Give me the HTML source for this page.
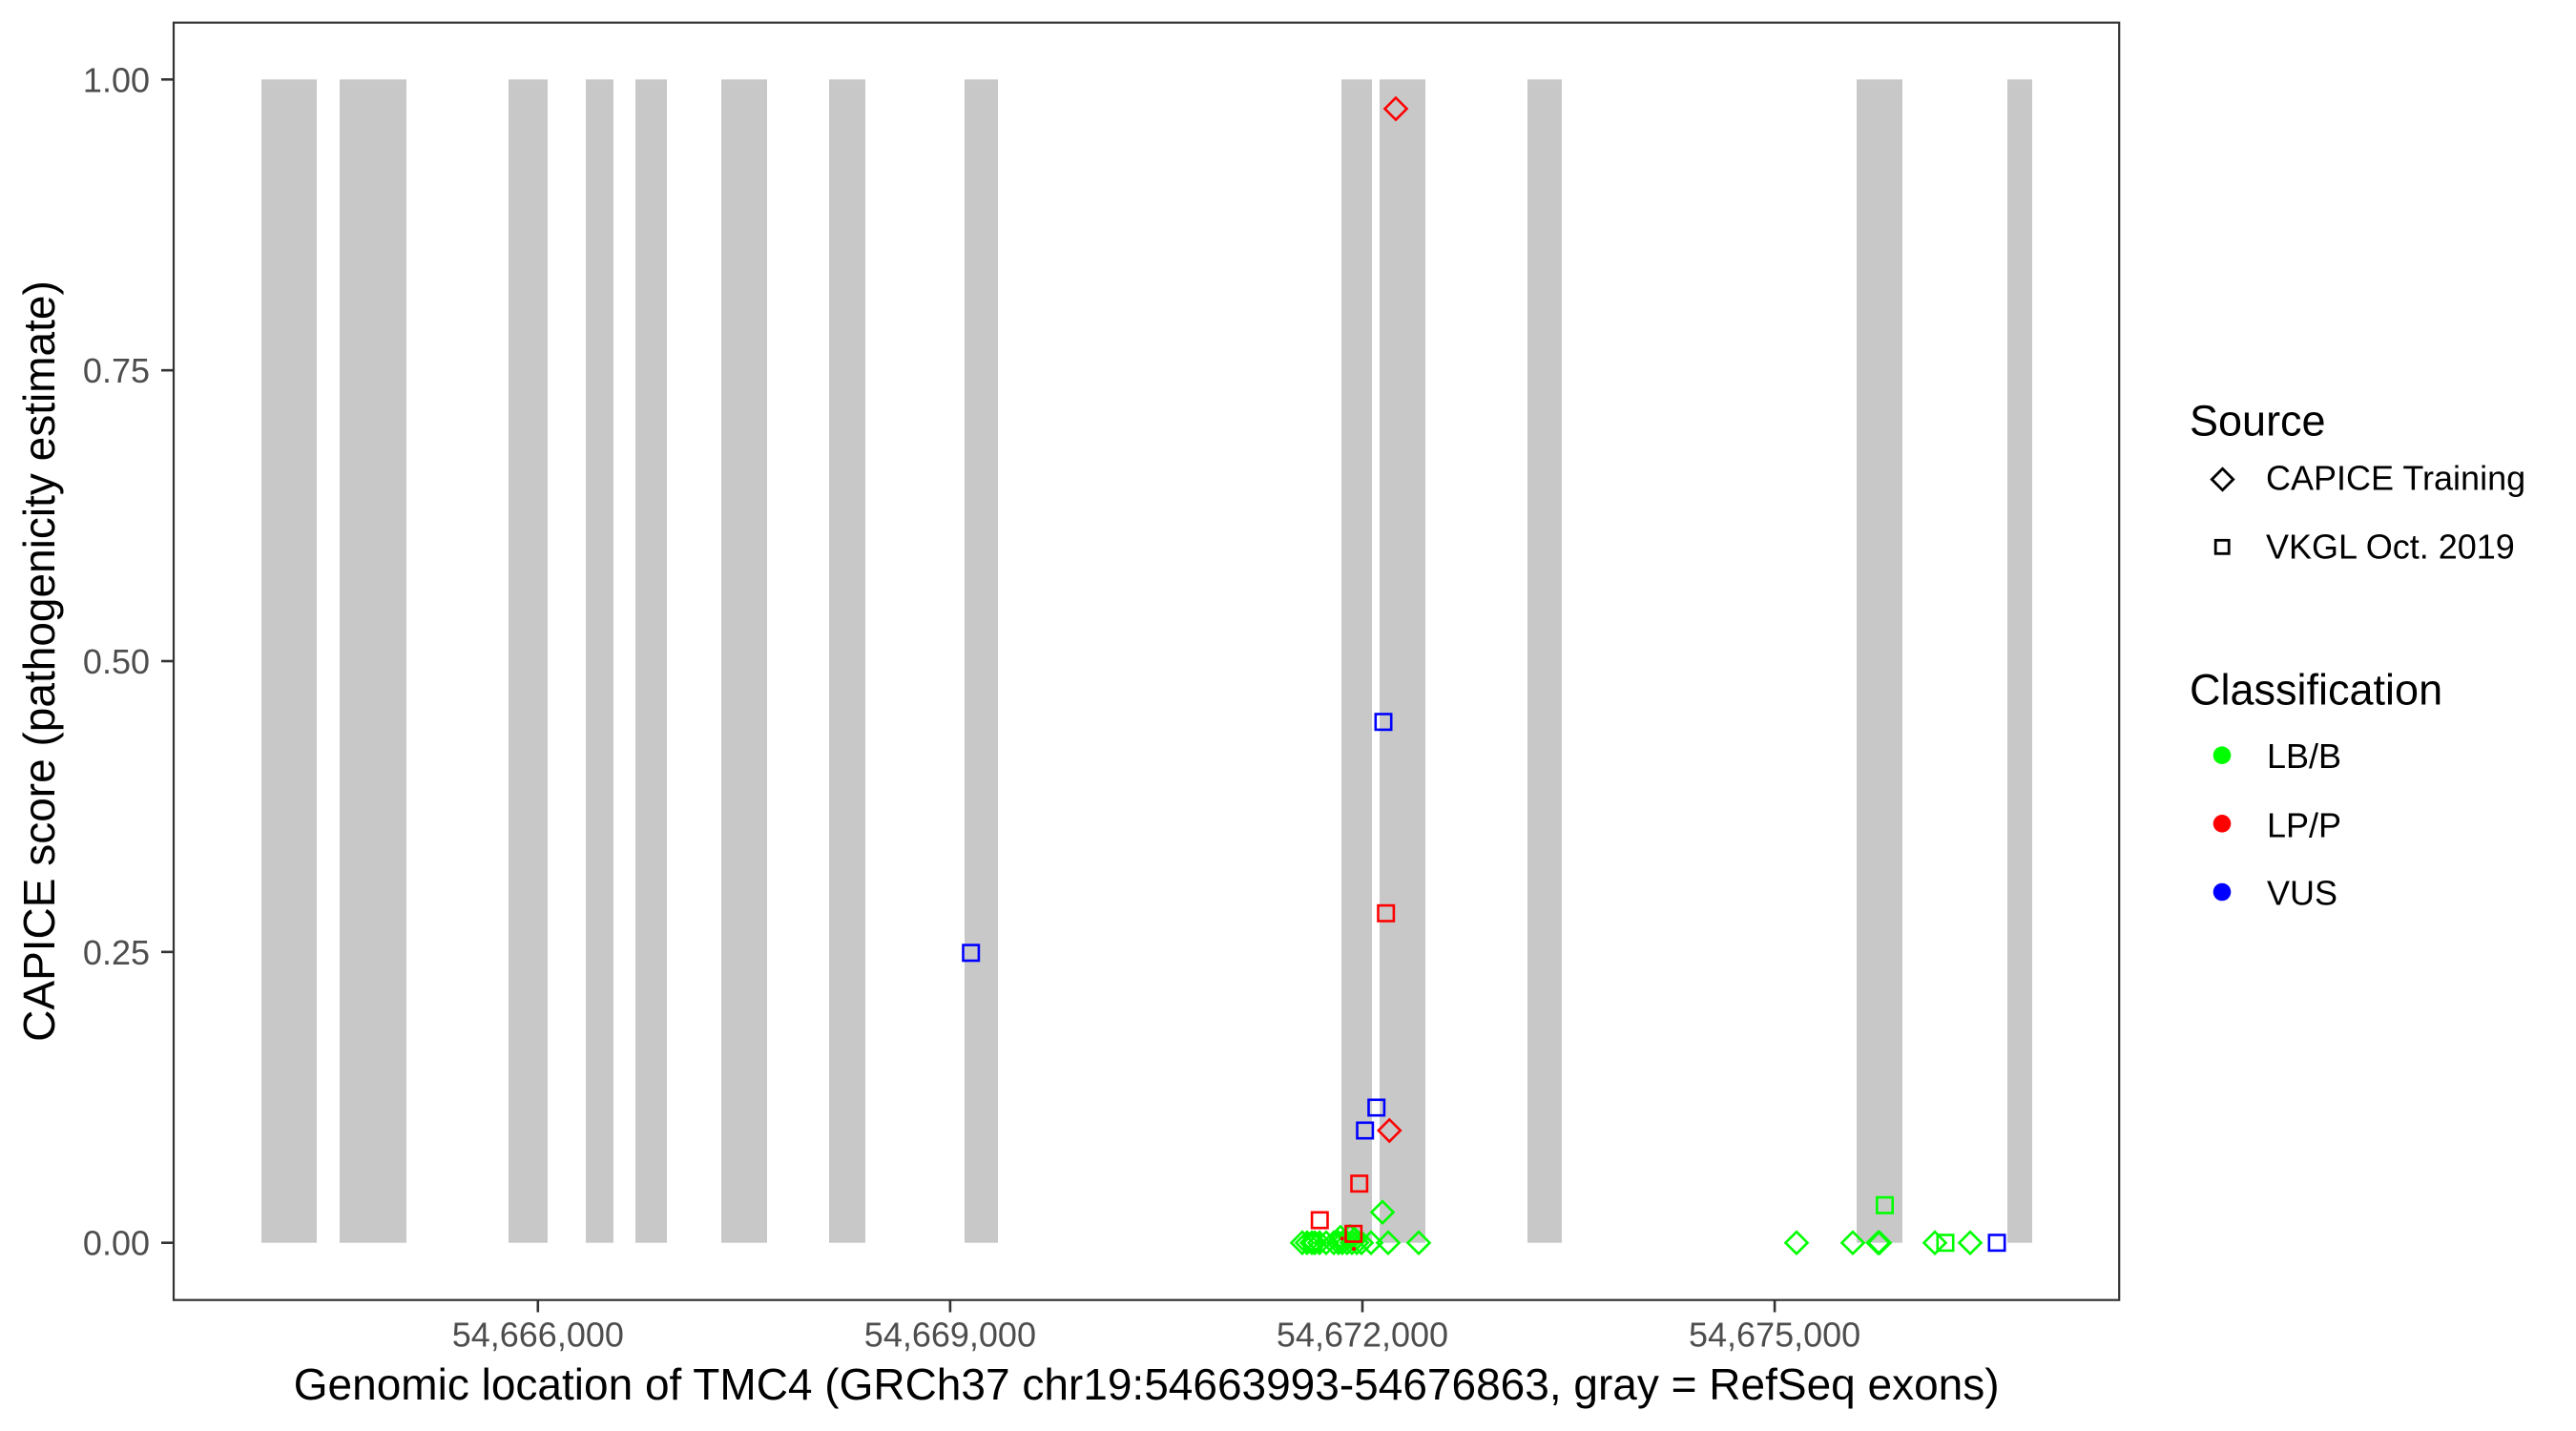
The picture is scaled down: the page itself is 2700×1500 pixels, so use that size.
<!DOCTYPE html>
<html><head><meta charset="utf-8"><style>
html,body{margin:0;padding:0;background:#fff;}
svg{display:block;}
text{font-family:"Liberation Sans",Arial,sans-serif;}
</style></head><body>
<svg width="2700" height="1500" viewBox="0 0 2700 1500" xmlns="http://www.w3.org/2000/svg">
<rect x="0" y="0" width="2700" height="1500" fill="#fff"/>
<!-- exons -->
<g fill="#C8C8C8">
<rect x="274" y="83.3" width="58" height="1219.4"/>
<rect x="356" y="83.3" width="70" height="1219.4"/>
<rect x="533" y="83.3" width="41" height="1219.4"/>
<rect x="614" y="83.3" width="29" height="1219.4"/>
<rect x="666" y="83.3" width="33" height="1219.4"/>
<rect x="756" y="83.3" width="48" height="1219.4"/>
<rect x="869" y="83.3" width="38" height="1219.4"/>
<rect x="1011" y="83.3" width="35" height="1219.4"/>
<rect x="1406" y="83.3" width="32" height="1219.4"/>
<rect x="1446" y="83.3" width="48" height="1219.4"/>
<rect x="1601" y="83.3" width="36" height="1219.4"/>
<rect x="1946" y="83.3" width="48" height="1219.4"/>
<rect x="2104" y="83.3" width="26" height="1219.4"/>
</g>
<defs>
<path id="dm" d="M0,-11.5 L11.5,0 L0,11.5 L-11.5,0 Z" fill="none" stroke-width="2.6"/>
<rect id="sq" x="-8.2" y="-8.2" width="16.4" height="16.4" fill="none" stroke-width="2.6"/>
</defs>
<!-- green diamonds -->
<g stroke="#00FF00" fill="none" stroke-width="2.6">
<use href="#dm" x="1365" y="1302.7" stroke="#00FF00"/>
<use href="#dm" x="1370" y="1302.7" stroke="#00FF00"/>
<use href="#dm" x="1375" y="1302.7" stroke="#00FF00"/>
<use href="#dm" x="1378" y="1302.7" stroke="#00FF00"/>
<use href="#dm" x="1383" y="1302.7" stroke="#00FF00"/>
<use href="#dm" x="1390" y="1302.7" stroke="#00FF00"/>
<use href="#dm" x="1398" y="1302.7" stroke="#00FF00"/>
<use href="#dm" x="1403" y="1302.7" stroke="#00FF00"/>
<use href="#dm" x="1407" y="1302.7" stroke="#00FF00"/>
<use href="#dm" x="1412" y="1302.7" stroke="#00FF00"/>
<use href="#dm" x="1417" y="1302.7" stroke="#00FF00"/>
<use href="#dm" x="1422" y="1302.7" stroke="#00FF00"/>
<use href="#dm" x="1427" y="1302.7" stroke="#00FF00"/>
<use href="#dm" x="1437" y="1302.7" stroke="#00FF00"/>
<use href="#dm" x="1455" y="1302.7" stroke="#00FF00"/>
<use href="#dm" x="1487" y="1302.7" stroke="#00FF00"/>
<use href="#dm" x="1405" y="1297" stroke="#00FF00"/>
<use href="#dm" x="1415" y="1296" stroke="#00FF00"/>
<use href="#dm" x="1420" y="1299" stroke="#00FF00"/>
<use href="#dm" x="1449" y="1270.7" stroke="#00FF00"/>
<use href="#dm" x="1883" y="1302.7" stroke="#00FF00"/>
<use href="#dm" x="1942" y="1302.7" stroke="#00FF00"/>
<use href="#dm" x="1968.5" y="1302.7" stroke="#00FF00"/>
<use href="#dm" x="1970" y="1302.7" stroke="#00FF00"/>
<use href="#dm" x="2028" y="1302.7" stroke="#00FF00"/>
<use href="#dm" x="2065" y="1302.7" stroke="#00FF00"/>
</g>
<!-- green squares -->
<g>
<use href="#sq" x="1375" y="1302.7" stroke="#00FF00"/>
<use href="#sq" x="1975.5" y="1263.3" stroke="#00FF00"/>
<use href="#sq" x="2039" y="1302.7" stroke="#00FF00"/>
</g>
<!-- red -->
<g>
<use href="#dm" x="1463" y="114" stroke="#FF0000"/>
<use href="#dm" x="1456.3" y="1185" stroke="#FF0000"/>
<use href="#sq" x="1452.7" y="957.3" stroke="#FF0000"/>
<use href="#sq" x="1424.7" y="1240.7" stroke="#FF0000"/>
<use href="#sq" x="1383.3" y="1279" stroke="#FF0000"/>
<use href="#sq" x="1418.7" y="1293.3" stroke="#FF0000"/>
<circle cx="1406.7" cy="1298.3" r="2" fill="#FF0000"/>
<circle cx="1419" cy="1309" r="2" fill="#FF0000"/>
</g>
<!-- blue -->
<g>
<use href="#sq" x="1017.7" y="998.8" stroke="#0000FF"/>
<use href="#sq" x="1450" y="756.7" stroke="#0000FF"/>
<use href="#sq" x="1442.7" y="1161" stroke="#0000FF"/>
<use href="#sq" x="1430.7" y="1185" stroke="#0000FF"/>
<use href="#sq" x="2093" y="1302.7" stroke="#0000FF"/>
</g>
<!-- panel border -->
<rect x="182" y="23.7" width="2039.2" height="1339" fill="none" stroke="#333333" stroke-width="2.2"/>
<!-- y ticks -->
<g stroke="#333333" stroke-width="2.6">
<line x1="169" y1="83.3" x2="182" y2="83.3"/>
<line x1="169" y1="388.15" x2="182" y2="388.15"/>
<line x1="169" y1="693" x2="182" y2="693"/>
<line x1="169" y1="997.85" x2="182" y2="997.85"/>
<line x1="169" y1="1302.7" x2="182" y2="1302.7"/>
</g>
<g font-size="36" fill="#4D4D4D" text-anchor="end">
<text x="157" y="96.3">1.00</text>
<text x="157" y="401.2">0.75</text>
<text x="157" y="706">0.50</text>
<text x="157" y="1010.9">0.25</text>
<text x="157" y="1315.7">0.00</text>
</g>
<!-- x ticks -->
<g stroke="#333333" stroke-width="2.6">
<line x1="563.8" y1="1362.7" x2="563.8" y2="1375.5"/>
<line x1="995.9" y1="1362.7" x2="995.9" y2="1375.5"/>
<line x1="1428" y1="1362.7" x2="1428" y2="1375.5"/>
<line x1="1860.1" y1="1362.7" x2="1860.1" y2="1375.5"/>
</g>
<g font-size="36" fill="#4D4D4D" text-anchor="middle">
<text x="563.8" y="1411.7">54,666,000</text>
<text x="995.9" y="1411.7">54,669,000</text>
<text x="1428" y="1411.7">54,672,000</text>
<text x="1860.1" y="1411.7">54,675,000</text>
</g>
<!-- axis titles -->
<text x="1201.7" y="1467" font-size="46" fill="#000" text-anchor="middle">Genomic location of TMC4 (GRCh37 chr19:54663993-54676863, gray = RefSeq exons)</text>
<text transform="translate(57,693) rotate(-90)" font-size="46" fill="#000" text-anchor="middle">CAPICE score (pathogenicity estimate)</text>
<!-- legend -->
<text x="2295" y="456.7" font-size="45" fill="#000">Source</text>
<path d="M2329.5,491.3 L2340.7,502.5 L2329.5,513.7 L2318.3,502.5 Z" fill="none" stroke="#000" stroke-width="2.8"/>
<text x="2375" y="513.5" font-size="36" fill="#000">CAPICE Training</text>
<rect x="2322.2" y="566.3" width="14" height="14" fill="none" stroke="#000" stroke-width="2.8"/>
<text x="2375" y="585.5" font-size="36" fill="#000">VKGL Oct. 2019</text>
<text x="2295" y="738.3" font-size="45" fill="#000">Classification</text>
<circle cx="2329" cy="791.7" r="9.3" fill="#00FF00"/>
<text x="2376" y="805" font-size="36" fill="#000">LB/B</text>
<circle cx="2329" cy="863.3" r="9.3" fill="#FF0000"/>
<text x="2376" y="877.3" font-size="36" fill="#000">LP/P</text>
<circle cx="2329" cy="935" r="9.3" fill="#0000FF"/>
<text x="2376" y="948.3" font-size="36" fill="#000">VUS</text>
</svg>
</body></html>
